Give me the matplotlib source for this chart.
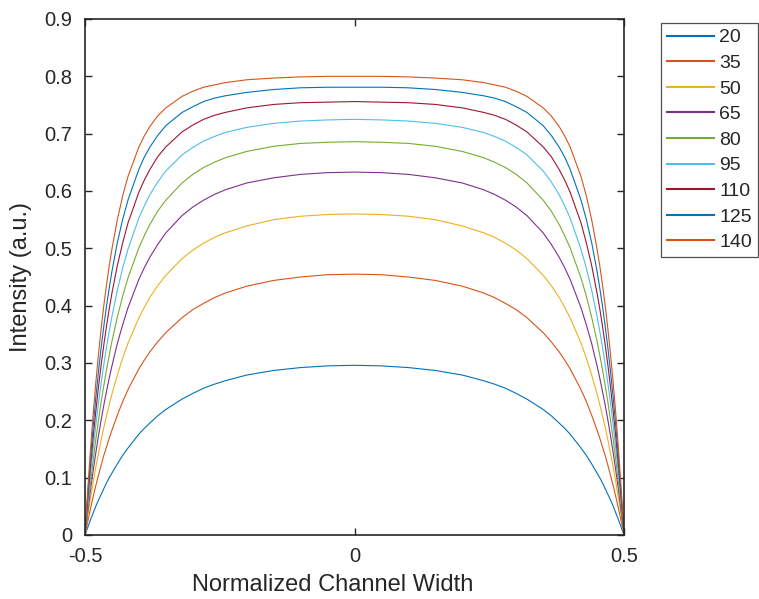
import matplotlib
matplotlib.use("Agg")
import matplotlib.pyplot as plt
import numpy as np

plt.rcParams['font.family'] = ['Liberation Sans', 'DejaVu Sans']

# left half of the channel, curves are symmetric about 0
x_half = [-0.5, -0.495, -0.49, -0.485, -0.48, -0.475, -0.47, -0.465, -0.46, -0.455,
          -0.45, -0.44, -0.43, -0.42, -0.40, -0.39, -0.38, -0.365, -0.35, -0.32,
          -0.30, -0.28, -0.26, -0.24, -0.20, -0.15, -0.10, -0.05, 0.0]

labels = ['20', '35', '50', '65', '80', '95', '110', '125', '140']

i20 = [0, .013, .026, .038, .050, .061, .071, .081, .091, .100, .108, .124, .139, .152, .176,
       .186, .195, .208, .219, .237, .247, .256, .263, .269, .279, .287, .292, .295, .296]
i35 = [0, .023, .045, .066, .086, .104, .122, .139, .154, .169, .183, .209, .233, .254, .290,
       .305, .319, .337, .353, .379, .393, .404, .414, .422, .434, .444, .450, .454, .455]
i50 = [0, .032, .063, .091, .118, .142, .166, .188, .208, .228, .246, .279, .309, .335, .379,
       .397, .414, .435, .453, .482, .497, .509, .519, .527, .539, .550, .556, .559, .560]
i65 = [0, .040, .077, .111, .143, .173, .201, .227, .251, .274, .295, .334, .367, .397, .446,
       .466, .484, .507, .527, .557, .572, .584, .594, .602, .614, .623, .629, .632, .633]
i80 = [0, .047, .089, .129, .166, .200, .232, .261, .289, .314, .338, .380, .417, .449, .501,
       .522, .541, .565, .584, .614, .629, .641, .650, .658, .669, .678, .683, .685, .686]
i95 = [0, .054, .104, .149, .191, .230, .265, .298, .328, .356, .381, .427, .466, .499, .553,
       .574, .593, .616, .635, .663, .676, .687, .695, .702, .711, .718, .722, .724, .725]
i110 = [0, .062, .118, .169, .215, .258, .297, .332, .365, .395, .422, .470, .510, .545, .598,
        .619, .637, .660, .677, .703, .715, .725, .732, .737, .745, .751, .754, .755, .756]
i125 = [0, .069, .131, .188, .239, .285, .327, .365, .400, .431, .460, .510, .551, .585, .638,
        .659, .676, .697, .714, .737, .747, .756, .762, .766, .772, .777, .780, .781, .781]
i140 = [0, .078, .147, .209, .265, .315, .360, .401, .437, .470, .499, .550, .592, .626, .677,
        .696, .712, .731, .745, .765, .774, .781, .785, .789, .794, .797, .799, .800, .800]

series = [i20, i35, i50, i65, i80, i95, i110, i125, i140]
colors = ['#0072BD', '#D95319', '#EDB120', '#7E2F8E', '#77AC30',
          '#4DBEEE', '#A2142F', '#0072BD', '#D95319']

xh = np.array(x_half)
x_full = np.concatenate([xh, -xh[-2::-1]])

fig = plt.figure(figsize=(7.59, 5.99), dpi=100)
ax = fig.add_axes([85/759, 1 - 535/599, (624-85)/759, (535-19)/599])

for vals, lab, c in zip(series, labels, colors):
    v = np.array(vals)
    ax.plot(x_full, np.concatenate([v, v[-2::-1]]), color=c, lw=0.8, label=lab)

ax.set_xlim(-0.5, 0.5)
ax.set_ylim(0, 0.9)
ax.set_xticks([-0.5, 0, 0.5])
ax.set_xticklabels(['-0.5', '0', '0.5'])
ax.set_yticks(np.arange(0, 0.91, 0.1))
ax.set_yticklabels(['0', '0.1', '0.2', '0.3', '0.4', '0.5', '0.6', '0.7', '0.8', '0.9'])
ax.tick_params(direction='in', length=5, width=1.0, top=True, right=True,
               labelsize=14.5, colors='#262626', pad=9)
for s in ax.spines.values():
    s.set_linewidth(1.2)
    s.set_color('#262626')

ax.set_xlabel('Normalized Channel Width', fontsize=17, color='#262626')
ax.xaxis.set_label_coords((333 - 85) / 539, -0.075)
ax.set_ylabel('Intensity (a.u.)', fontsize=17, color='#262626', labelpad=9)

leg = ax.legend(loc='upper left', bbox_to_anchor=(661/759, 1 - 23/599),
                bbox_transform=fig.transFigure, fontsize=14, frameon=True,
                fancybox=False, edgecolor='#262626', handlelength=2.4,
                handletextpad=0.3, labelspacing=0.41, borderpad=0.3,
                borderaxespad=0)
leg.get_frame().set_linewidth(0.9)
for line in leg.get_lines():
    line.set_linewidth(1.5)
for t in leg.get_texts():
    t.set_color('#262626')

fig.savefig('out.png', dpi=100)
